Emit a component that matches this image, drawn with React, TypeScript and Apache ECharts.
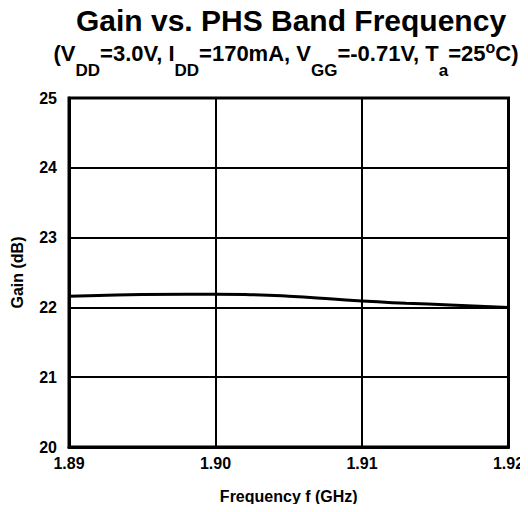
import React, { useEffect, useRef } from "react";
import * as echarts from "echarts";

const freqGHz = [1.89, 1.892, 1.895, 1.898, 1.9, 1.902, 1.905, 1.908, 1.91, 1.913, 1.916, 1.92];
const gainDb = [22.16, 22.17, 22.185, 22.19, 22.19, 22.185, 22.16, 22.12, 22.09, 22.06, 22.035, 22.0];
const xTicks = [1.89, 1.9, 1.91, 1.92];
const yTicks = [20, 21, 22, 23, 24, 25];

const FONT = "'Liberation Sans', Arial, sans-serif";

export default function App() {
  const ref = useRef<HTMLDivElement>(null);
  useEffect(() => {
    if (!ref.current) return;
    const chart = echarts.init(ref.current, null, { renderer: "svg" });
    const data = freqGHz.map((f, i) => [f, gainDb[i]]);
    chart.setOption({
      animation: false,
      backgroundColor: "#ffffff",
      title: [
        {
          text: "Gain vs. PHS Band Frequency",
          left: 286,
          top: 0,
          textAlign: "center",
          textStyle: { fontFamily: FONT, fontSize: 30, fontWeight: "bold", color: "#000" },
        },
        {
          text:
            "{n|(V}{s|DD}{n|=3.0V, I}{s|DD}{n|=170mA, V}{s|GG}{n|=-0.71V, T}{s|a}{n|=25}{p|o}{n|C)}",
          left: 281,
          top: 22,
          textAlign: "center",
          textStyle: {
            fontFamily: FONT,
            fontWeight: "bold",
            color: "#000",
            rich: {
              n: { fontFamily: FONT, fontSize: 22, fontWeight: "bold", color: "#000", lineHeight: 52, verticalAlign: "middle" },
              s: { fontFamily: FONT, fontSize: 17, fontWeight: "bold", color: "#000", lineHeight: 52, verticalAlign: "bottom" },
              p: { fontFamily: FONT, fontSize: 16, fontWeight: "bold", color: "#000", lineHeight: 52, verticalAlign: "top", padding: [12, 0, 0, 0] },
            },
          },
        },
      ],
      grid: { left: 69, right: 19.5, top: 98, bottom: 65, show: true, borderColor: "#000", borderWidth: 3, containLabel: false },
      xAxis: {
        type: "value",
        min: xTicks[0],
        max: xTicks[xTicks.length - 1],
        interval: 0.01,
        name: "Frequency f (GHz)",
        nameLocation: "middle",
        nameGap: 41,
        nameTextStyle: { fontFamily: FONT, fontSize: 16, fontWeight: "bold", color: "#000" },
        axisLine: { show: true, lineStyle: { color: "#000", width: 3 } },
        axisTick: { show: false },
        axisLabel: {
          margin: 8,
          fontFamily: FONT,
          fontSize: 16,
          fontWeight: "bold",
          color: "#000",
          formatter: (v: number) => v.toFixed(2),
          customValues: xTicks,
        },
        splitLine: { show: true, lineStyle: { color: "#000", width: 2 } },
      },
      yAxis: {
        type: "value",
        min: yTicks[0],
        max: yTicks[yTicks.length - 1],
        interval: 1,
        name: "Gain (dB)",
        nameLocation: "middle",
        nameGap: 44,
        nameTextStyle: { fontFamily: FONT, fontSize: 16, fontWeight: "bold", color: "#000" },
        axisLine: { show: true, lineStyle: { color: "#000", width: 3 } },
        axisTick: { show: false },
        axisLabel: { margin: 12, fontFamily: FONT, fontSize: 16, fontWeight: "bold", color: "#000" },
        splitLine: { show: true, lineStyle: { color: "#000", width: 2 } },
      },
      series: [
        {
          type: "line",
          data,
          smooth: true,
          showSymbol: false,
          lineStyle: { color: "#000", width: 3 },
          z: 5,
        },
      ],
    });
    return () => chart.dispose();
  }, []);
  return <div ref={ref} style={{ width: 528, height: 512, margin: -8 }} />;
}
